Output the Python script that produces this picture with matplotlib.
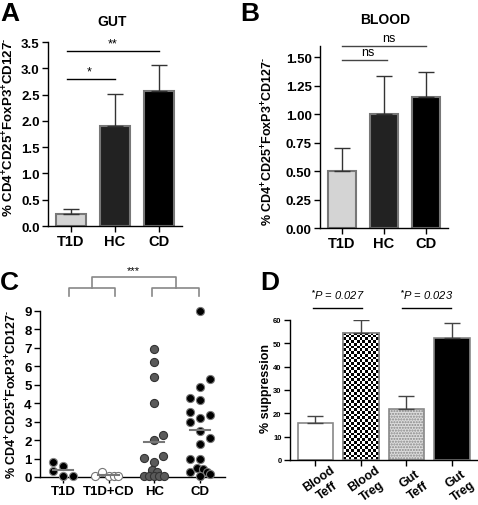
import matplotlib
matplotlib.use('Agg')
import matplotlib.pyplot as plt
import numpy as np

plt.rcParams['font.family'] = ['Liberation Sans', 'DejaVu Sans']
plt.rcParams['mathtext.fontset'] = 'custom'
plt.rcParams['mathtext.rm'] = 'Liberation Sans:bold'
plt.rcParams['mathtext.it'] = 'Liberation Sans:italic'
plt.rcParams['mathtext.bf'] = 'Liberation Sans:bold'
plt.rcParams['axes.linewidth'] = 1.0

# ---------------- data ----------------
groups_ab = ['T1D', 'HC', 'CD']
gut_mean = [0.23, 1.91, 2.56]
gut_err_top = [0.32, 2.51, 3.06]
blood_mean = [0.50, 1.00, 1.15]
blood_err_top = [0.70, 1.34, 1.37]
ab_colors = ['#d4d4d4', '#222222', '#000000']

c_groups = ['T1D', 'T1D+CD', 'HC', 'CD']
c_t1d = [0.83, 0.61, 0.34, 0.05, 0.07]
c_t1d_dx = [-0.22, 0.0, -0.22, 0.0, 0.22]
c_t1dcd = [0.07, 0.27, 0.03, 0.05, 0.05]
c_t1dcd_dx = [-0.29, -0.15, 0.0, 0.11, 0.21]
c_hc = [6.93, 6.25, 5.40, 4.00, 2.28, 2.01, 1.03, 1.16, 0.80, 0.40, 0.25,
        0.05, 0.05, 0.05, 0.05, 0.05]
c_hc_dx = [0.0, 0.0, 0.0, 0.0, 0.2, 0.0, -0.22, 0.2, 0.0, -0.05, 0.06,
           -0.22, -0.11, 0.0, 0.11, 0.22]
c_cd = [9.0, 5.3, 4.9, 4.3, 4.2, 3.5, 3.37, 3.0, 3.2, 2.5, 2.1, 1.8, 1.0, 1.0,
        0.29, 0.49, 0.43, 0.29, 0.05, 0.16]
c_cd_dx = [0.0, 0.22, 0.0, -0.22, 0.0, -0.22, 0.22, -0.22, 0.0, 0.0, 0.22, 0.0,
           -0.22, 0.0, -0.22, -0.07, 0.07, 0.15, 0.0, 0.22]
c_means = [0.40, 0.09, 1.91, 2.55]

d_labels = ['Blood\nTeff', 'Blood\nTreg', 'Gut\nTeff', 'Gut\nTreg']
d_mean = [15.9, 54.6, 21.9, 52.2]
d_err_top = [19.0, 59.9, 27.6, 58.7]

W, H = 478, 506
fig = plt.figure(figsize=(W / 100, H / 100), dpi=100)


def px_axes(l, t, r, b):
    return fig.add_axes([l / W, 1 - b / H, (r - l) / W, (b - t) / H])


def style_axes(ax, fs=9.5):
    for s in ['top', 'right']:
        ax.spines[s].set_visible(False)
    ax.tick_params(axis='both', length=4, width=1, labelsize=fs, pad=2)
    for lab in ax.get_xticklabels() + ax.get_yticklabels():
        lab.set_fontweight('bold')


def bar_panel(ax, means, tops, ylim, yticks, fmt):
    x = np.arange(len(means))
    ax.bar(x, means, width=0.67, color=ab_colors, edgecolor='#777777',
           linewidth=1.5, zorder=2)
    lower = [0] * len(means)
    upper = [t - m for t, m in zip(tops, means)]
    ax.errorbar(x, means, yerr=[lower, upper], fmt='none', ecolor='#333333',
                elinewidth=1, capsize=6, capthick=1, zorder=3)
    ax.set_xlim(-0.52, 2.52)
    ax.set_ylim(*ylim)
    ax.set_yticks(yticks)
    ax.set_yticklabels([fmt.format(v) for v in yticks])
    ax.set_xticks(x)
    ax.set_xticklabels(groups_ab)
    style_axes(ax)
    ax.tick_params(axis='x', labelsize=10.5)
    for lab in ax.get_xticklabels():
        lab.set_fontweight('bold')


# ---------------- Panel A ----------------
axA = px_axes(48, 43, 182, 227)
bar_panel(axA, gut_mean, gut_err_top, (0, 3.5), np.arange(0, 3.51, 0.5), '{:.1f}')
axA.plot([-0.1, 1.0], [2.8, 2.8], color='black', lw=1, clip_on=False)
axA.text(0.42, 2.83, '*', ha='center', va='bottom', fontsize=9)
axA.plot([-0.1, 2.0], [3.33, 3.33], color='black', lw=1, clip_on=False)
axA.text(0.95, 3.36, '**', ha='center', va='bottom', fontsize=9)

# ---------------- Panel B ----------------
axB = px_axes(320, 47, 448, 229)
bar_panel(axB, blood_mean, blood_err_top, (0, 1.6), np.arange(0, 1.51, 0.25), '{:.2f}')
axB.plot([0, 1.06], [1.48, 1.48], color='#444444', lw=1, clip_on=False)
axB.text(0.62, 1.495, 'ns', ha='center', va='bottom', fontsize=9)
axB.plot([0, 2.0], [1.6, 1.6], color='#444444', lw=1, clip_on=False)
axB.text(1.12, 1.615, 'ns', ha='center', va='bottom', fontsize=9)

# ---------------- Panel C ----------------
axC = px_axes(40, 312, 225, 478)
groups_pts = [(c_t1d, c_t1d_dx, 'black', '#888888'),
              (c_t1dcd, c_t1dcd_dx, 'white', '#777777'),
              (c_hc, c_hc_dx, '#5a5a5a', '#333333'),
              (c_cd, c_cd_dx, 'black', '#777777')]
for i, (vals, dx, fc, ec) in enumerate(groups_pts):
    xs = [i + d for d in dx]
    axC.scatter(xs, vals, s=34, facecolor=fc, edgecolor=ec, linewidth=0.8,
                zorder=3, clip_on=False)
    axC.plot([i - 0.22, i + 0.22], [c_means[i], c_means[i]], color='#777777',
             lw=1.5, zorder=4)
axC.set_xlim(-0.5, 3.55)
axC.set_ylim(0, 9)
axC.set_yticks(range(0, 10))
axC.set_xticks(range(4))
axC.set_xticklabels(c_groups)
style_axes(axC)
axC.tick_params(axis='x', labelsize=9.5)
for lab in axC.get_xticklabels():
    lab.set_fontweight('bold')
bc = '#888888'
for x0, x1 in [(0.13, 1.15), (1.95, 2.98)]:
    axC.plot([x0, x0, x1, x1], [9.8, 10.25, 10.25, 9.8], color=bc, lw=1.2, clip_on=False)
axC.plot([0.64, 0.64, 2.47, 2.47], [10.25, 10.85, 10.85, 10.25], color=bc, lw=1.2,
         clip_on=False)
axC.text(1.55, 10.95, '***', ha='center', va='bottom', fontsize=8)

# ---------------- Panel D ----------------
axD = px_axes(290, 321, 477, 461)
xd = np.arange(4)
d_face = ['white', 'white', '#dcdcdc', 'black']
d_hatch = [None, None, '......', None]
bars = axD.bar(xd, d_mean, width=0.79, color=d_face, edgecolor='#888888',
               linewidth=1.2, hatch=d_hatch, zorder=2)
# checkerboard fill for Blood Treg
b = bars[1]
nx, ny = 13, 47
checker = (np.indices((ny, nx)).sum(axis=0) % 2).astype(float)
im = axD.imshow(checker, cmap='gray', interpolation='nearest', aspect='auto',
                extent=(b.get_x(), b.get_x() + b.get_width(), 0, b.get_height()),
                zorder=2.5)
im.set_clip_path(b)
axD.bar([xd[1]], [d_mean[1]], width=0.79, facecolor='none', edgecolor='#888888',
        linewidth=1.2, zorder=2.6)
axD.errorbar(xd, d_mean, yerr=[[0] * 4, [t - m for t, m in zip(d_err_top, d_mean)]],
             fmt='none', ecolor='#444444', elinewidth=1, capsize=6, capthick=1,
             zorder=3)
axD.set_xlim(-0.56, 3.55)
axD.set_ylim(0, 60)
axD.set_yticks(range(0, 61, 10))
axD.set_xticks(xd)
axD.set_xticklabels(d_labels, rotation=35, ha='center', va='top',
                    rotation_mode='anchor', multialignment='center')
style_axes(axD, fs=5.5)
axD.tick_params(axis='x', labelsize=9, pad=6)
for lab in axD.get_xticklabels():
    lab.set_fontweight('bold')
for (x0, x1), txt in [((-0.05, 1.02), '$^{*}$P = 0.027'), ((1.9, 2.98), '$^{*}$P = 0.023')]:
    axD.plot([x0, x1], [65.1, 65.1], color='black', lw=1, clip_on=False)
    axD.text((x0 + x1) / 2, 69, txt, ha='center', va='baseline', fontsize=8,
             style='italic', clip_on=False)

# ---------------- labels ----------------
ylab = r'% CD4$^{+}$CD25$^{+}$FoxP3$^{+}$CD127$^{\text{-}}$'
fig.text(9 / W, 1 - 127 / H, ylab, rotation=90, ha='center', va='center',
         fontsize=9.5, fontweight='bold')
fig.text(267.5 / W, 1 - 141 / H, ylab, rotation=90, ha='center', va='center',
         fontsize=9, fontweight='bold')
fig.text(11.5 / W, 1 - 394 / H, ylab, rotation=90, ha='center', va='center',
         fontsize=9, fontweight='bold')
fig.text(266.5 / W, 1 - 388.5 / H, '% suppression', rotation=90, ha='center',
         va='center', fontsize=9, fontweight='bold')

fig.text(112 / W, 1 - 22 / H, 'GUT', ha='center', va='center', fontsize=10,
         fontweight='bold')
fig.text(385 / W, 1 - 20 / H, 'BLOOD', ha='center', va='center', fontsize=10,
         fontweight='bold')

for lbl, x, y in [('A', 0, 2), ('B', 240, 2), ('C', 0, 271), ('D', 260, 271)]:
    fig.text(x / W, 1 - y / H, lbl, ha='left', va='top', fontsize=19,
             fontweight='bold')

fig.savefig('out.png', dpi=100)
